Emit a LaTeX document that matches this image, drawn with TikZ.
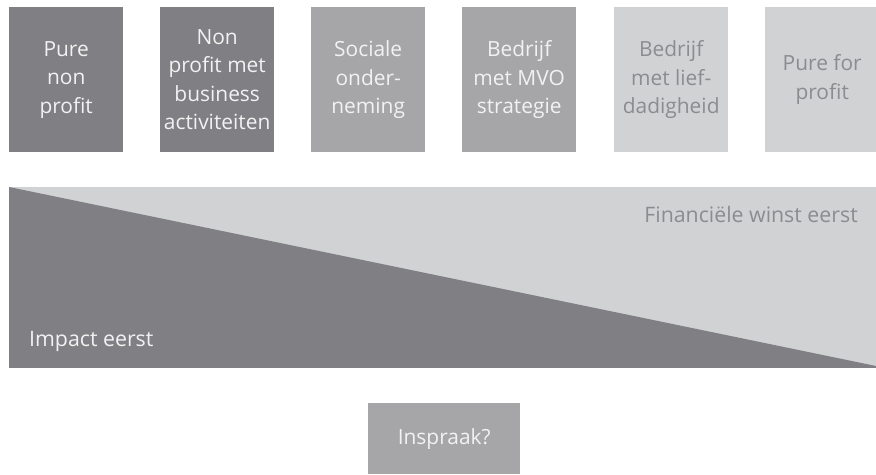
\documentclass[tikz,border=0pt]{standalone}
\usepackage{fontspec}
\setmainfont{Open Sans}
\begin{document}
\definecolor{darkgray}{HTML}{808084}
\definecolor{midgray}{HTML}{A6A6A9}
\definecolor{lightgray}{HTML}{D1D2D4}
\definecolor{softwhite}{HTML}{F2F2F2}
\definecolor{greytext}{HTML}{8C8C90}
\begin{tikzpicture}[x=1bp,y=-1bp,
  box/.style={anchor=north west,minimum width=114bp,minimum height=145bp,
    inner sep=0pt,align=center,font=\fontsize{21}{28.5}\selectfont},
  darkbox/.style={box,fill=darkgray,text=softwhite},
  midbox/.style={box,fill=midgray,text=softwhite},
  lightbox/.style={box,fill=lightgray,text=greytext},
  label/.style={inner sep=0pt,font=\fontsize{21.4}{24}\selectfont}]
\useasboundingbox (0,0) rectangle (876,475);
% category boxes
\node[darkbox]  (pnp) at (9,7)   {Pure\\non\\profit};
\node[darkbox]  (npb) at (160,7) {Non\\profit met\\business\\activiteiten};
\node[midbox]   (soc) at (311,7) {Sociale\\onder-\\neming};
\node[midbox]   (mvo) at (462,7) {Bedrijf\\met MVO\\strategie};
\node[lightbox] (lie) at (614,7) {Bedrijf\\met lief-\\dadigheid};
\node[lightbox] (pfp) at (765,7) {Pure for\\profit};
% spectrum band
\fill[lightgray] (9,187) rectangle (876,368);
\fill[darkgray] (9,187) -- (876,366) -- (876,368) -- (9,368) -- cycle;
\node[label,anchor=base west,text=softwhite] (imp) at (29,347) {Impact eerst};
\node[label,anchor=base east,text=greytext] (fin) at (858,223) {Financiële winst eerst};
% question box
\node[anchor=north west,minimum width=152bp,minimum height=71bp,inner sep=0pt,
  fill=midgray,text=softwhite,font=\fontsize{21}{24}\selectfont] (ins) at (368,403) {Inspraak?};
\end{tikzpicture}
\end{document}
